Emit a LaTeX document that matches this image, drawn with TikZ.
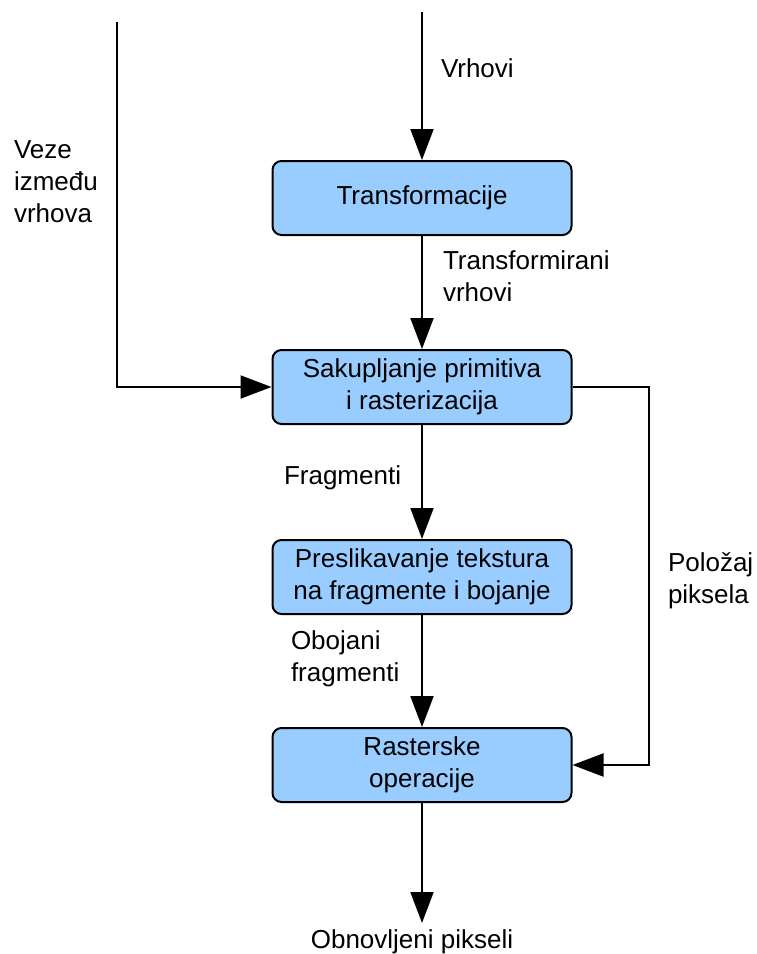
\documentclass[tikz,border=0pt]{standalone}
\usepackage{fontspec}
\setmainfont{Liberation Sans}
\usetikzlibrary{arrows.meta}
\definecolor{stageblue}{HTML}{99CCFF}
\tikzset{
  stage/.style={rectangle, rounded corners=9pt, draw, line width=2pt,
    fill=stageblue, minimum width=299pt, minimum height=74pt,
    inner sep=0pt, align=center, font=\fontsize{26}{32}\selectfont},
  flowlabel/.style={inner sep=0pt, anchor=north west, align=left,
    font=\fontsize{26}{32}\selectfont}
}
\newcommand{\Stage}[2]{%
  node (#1) [stage] {#2};
}

\begin{document}
\begin{tikzpicture}[x=1pt, y=-1pt, line width=2pt,
    >={Triangle[length=31pt, width=23pt]}]
    \useasboundingbox (0,0) rectangle (756,954);

    \draw (422,198) \Stage{transf}{Transformacije}
    \draw (422,387) \Stage{sakup}{Sakupljanje primitiva\\i rasterizacija}
    \draw (422,577) \Stage{tekst}{Preslikavanje tekstura\\na fragmente i bojanje}
    \draw (422,765) \Stage{rop}{Rasterske\\operacije}

    \coordinate (vin) at (422,12);
    \coordinate (ein) at (117,22);
    \coordinate (pbend) at (649,387);
    \coordinate (pout) at (422,923);

    \node (vrh) [flowlabel] at (440,58) {Vrhovi};
    \node (veze) [flowlabel] at (13,140) {Veze\\između\\vrhova};
    \node (tvrh) [flowlabel] at (442,250) {Transformirani\\vrhovi};
    \node (frag) [flowlabel] at (283,465) {Fragmenti};
    \node (obfrag) [flowlabel] at (290,630) {Obojani\\fragmenti};
    \node (polo) [flowlabel] at (667,552) {Položaj\\piksela};
    \node (obnov) [flowlabel, anchor=north] at (412,929) {Obnovljeni pikseli};

    \draw[->] (vin) -- (transf.north);
    \draw[->] (transf) -- (sakup);
    \draw[->] (sakup) -- (tekst);
    \draw[->] (tekst) -- (rop);
    \draw[->] (rop) -- (pout);
    \draw[->] (ein) |- (sakup.west);
    \draw[->] (sakup.east) -- (pbend) |- (rop.east);
  \end{tikzpicture}
\end{document}
